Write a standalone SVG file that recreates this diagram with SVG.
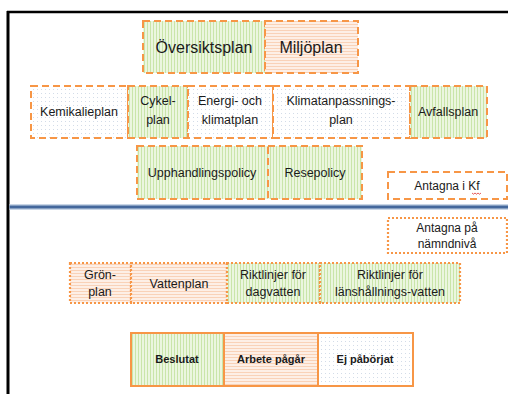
<svg xmlns="http://www.w3.org/2000/svg" width="508" height="394" viewBox="0 0 508 394">
<defs>
<pattern id="pg" width="3" height="3" patternUnits="userSpaceOnUse"><rect width="3" height="3" fill="#ebf6df"/><rect width="1" height="3" fill="#c9e5a9"/></pattern>
<pattern id="po" width="3" height="3" patternUnits="userSpaceOnUse"><rect width="3" height="3" fill="#fdefe6"/><rect width="3" height="1" fill="#f9d2b8"/></pattern>
<pattern id="pd" width="4" height="4" patternUnits="userSpaceOnUse"><rect width="4" height="4" fill="#ffffff"/><rect x="1" y="1" width="1" height="1" fill="#d3dce8"/></pattern>
<style>
text{font-family:"Liberation Sans",Arial,sans-serif;fill:#1a1a1a;text-anchor:middle}
.dash{stroke:#f79646;stroke-width:2;stroke-dasharray:7 4}
.dot{stroke:#f79646;stroke-width:2.2;stroke-dasharray:2 2}
.solid{stroke:#f79646;stroke-width:2}
.g{fill:url(#pg)}.o{fill:url(#po)}.d{fill:url(#pd)}.w{fill:#fff}
.big{font-size:16px}.mid{font-size:12.5px}.sm{font-size:12px}.leg{font-size:11px;font-weight:bold}
</style>
</defs>
<rect width="508" height="394" fill="#fff"/>
<g id="frame">
<line x1="7" y1="12" x2="508" y2="12" stroke="#000" stroke-width="2.5"/>
<line x1="8" y1="11" x2="8" y2="394" stroke="#000" stroke-width="3"/>
<line x1="9.5" y1="207" x2="508" y2="207" stroke="#c9d6e6" stroke-width="6"/>
<line x1="9.5" y1="207" x2="508" y2="207" stroke="#44689c" stroke-width="3"/>
</g>
<g id="oversiktsplan"><rect class="g dash" x="143" y="21" width="122" height="52"/><text class="big" x="204" y="53">Översiktsplan</text></g>
<g id="miljoplan"><rect class="o dash" x="265" y="21" width="93" height="52"/><text class="big" x="311" y="53">Miljöplan</text></g>
<g id="kemikalieplan"><rect class="d dash" x="31" y="86" width="97" height="52"/><text class="mid" x="79" y="116">Kemikalieplan</text></g>
<g id="cykelplan"><rect class="g dash" x="128" y="86" width="60" height="52"/><text class="mid" x="158" y="105">Cykel-</text><text class="mid" x="158" y="124">plan</text></g>
<g id="energi"><rect class="d dash" x="188" y="86" width="85" height="52"/><text class="mid" x="230" y="105">Energi- och</text><text class="mid" x="230" y="124">klimatplan</text></g>
<g id="klimatanpassning"><rect class="d dash" x="273" y="86" width="137" height="52"/><text class="mid" x="341" y="105">Klimatanpassnings-</text><text class="mid" x="341" y="124">plan</text></g>
<g id="avfallsplan"><rect class="g dash" x="410" y="86" width="77" height="52"/><text class="mid" x="448" y="116">Avfallsplan</text></g>
<g id="upphandlingspolicy"><rect class="g dash" x="137" y="146" width="131" height="53"/><text class="mid" x="202" y="177">Upphandlingspolicy</text></g>
<g id="resepolicy"><rect class="g dash" x="268" y="146" width="94" height="53"/><text class="mid" x="315" y="177">Resepolicy</text></g>
<g id="antagna-kf"><rect class="w dash" x="388" y="172" width="119" height="27"/><text class="sm" x="447" y="190">Antagna i Kf</text><path d="M472 193 l1.5 1.2 1.5 -1.2 1.5 1.2 1.5 -1.2 1.5 1.2 1.5 -1.2" fill="none" stroke="#e03030" stroke-width="0.8"/></g>
<g id="antagna-namnd"><rect class="w dot" x="388" y="218" width="119" height="35"/><text class="sm" x="447" y="232">Antagna på</text><text class="sm" x="447" y="248">nämndnivå</text></g>
<g id="gronplan"><rect class="o dot" x="70" y="263" width="61" height="40"/><text class="mid" x="100" y="279">Grön-</text><text class="mid" x="100" y="296">plan</text></g>
<g id="vattenplan"><rect class="o dot" x="131" y="263" width="96" height="40"/><text class="mid" x="179" y="288">Vattenplan</text></g>
<g id="dagvatten"><rect class="g dot" x="227" y="263" width="93" height="40"/><text class="mid" x="273" y="279">Riktlinjer för</text><text class="mid" x="273" y="296">dagvatten</text></g>
<g id="lanshallning"><rect class="g dot" x="320" y="263" width="140" height="40"/><text class="mid" x="390" y="279">Riktlinjer för</text><text class="mid" x="390" y="296" textLength="110" lengthAdjust="spacingAndGlyphs">länshållnings-vatten</text></g>
<g id="legend">
<rect class="g solid" x="131" y="333" width="93" height="53"/><text class="leg" x="177" y="363">Beslutat</text>
<rect class="o solid" x="224" y="333" width="94" height="53"/><text class="leg" x="271" y="363">Arbete pågår</text>
<rect class="d solid" x="318" y="333" width="95" height="53"/><text class="leg" x="365" y="363">Ej påbörjat</text>
</g>
<g id="connectors"></g>
</svg>
